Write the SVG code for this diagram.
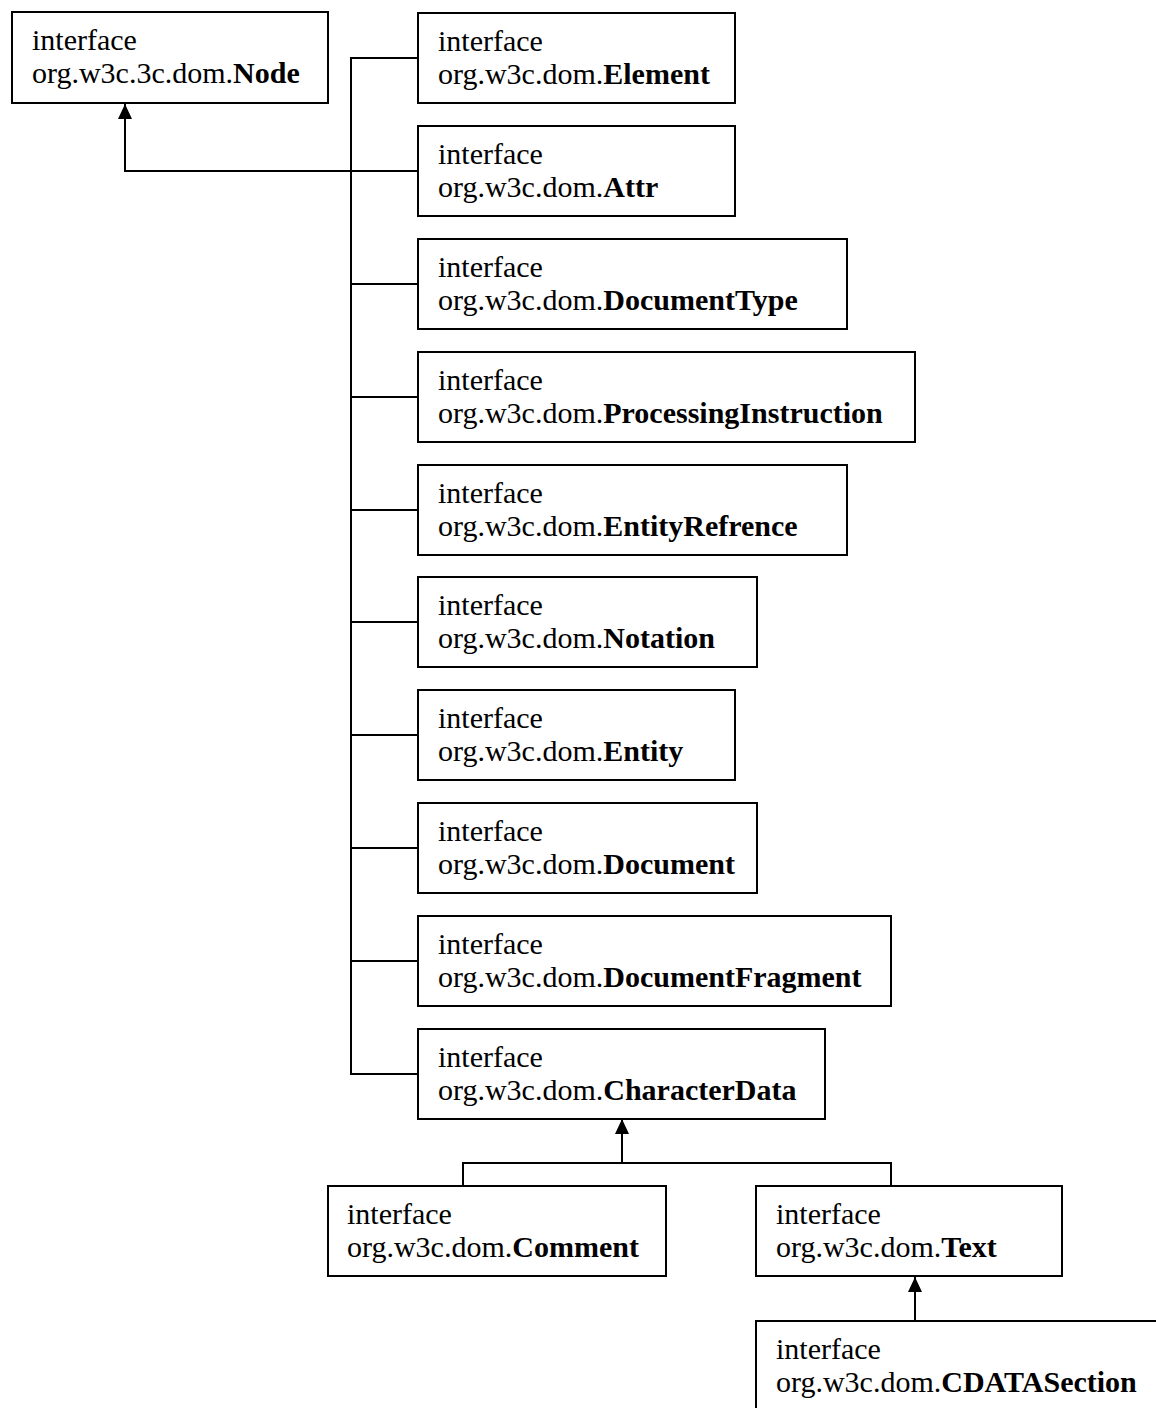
<svg xmlns="http://www.w3.org/2000/svg" width="1156" height="1408" viewBox="0 0 1156 1408">
<style>
.box{fill:#fff;stroke:#000;stroke-width:2}
.t{font-family:"Liberation Serif","Times New Roman",serif;font-size:30px;fill:#000}
.b{font-weight:bold}
.c{fill:none;stroke:#000;stroke-width:2}
</style>
<defs>
<marker id="arr" markerUnits="userSpaceOnUse" markerWidth="16" markerHeight="16" refX="15" refY="7" orient="auto" viewBox="0 0 16 16">
<path d="M0,0 L15,7 L0,14 z" fill="#000"/>
</marker>
</defs>
<rect width="1156" height="1408" fill="#fff"/>
<g id="connectors">
<path class="c" d="M418,58 H351 V1074 H418"/>
<path class="c" d="M418,171 H125 V104" marker-end="url(#arr)"/>
<path class="c" d="M351,284 H418 M351,397 H418 M351,510 H418 M351,622 H418 M351,735 H418 M351,848 H418 M351,961 H418"/>
<path class="c" d="M463,1186 V1163 H891 V1186"/>
<path class="c" d="M622,1163 V1119" marker-end="url(#arr)"/>
<path class="c" d="M915,1321 V1277" marker-end="url(#arr)"/>
</g>
<g id="node-Node"><rect class="box" x="12" y="12" width="316" height="91"/><text class="t" x="32" y="50">interface</text><text class="t" x="32" y="83">org.w3c.3c.dom.<tspan class="b">Node</tspan></text></g>
<g id="node-Element"><rect class="box" x="418" y="13" width="317" height="90"/><text class="t" x="438" y="51">interface</text><text class="t" x="438" y="84">org.w3c.dom.<tspan class="b">Element</tspan></text></g>
<g id="node-Attr"><rect class="box" x="418" y="126" width="317" height="90"/><text class="t" x="438" y="164">interface</text><text class="t" x="438" y="197">org.w3c.dom.<tspan class="b">Attr</tspan></text></g>
<g id="node-DocumentType"><rect class="box" x="418" y="239" width="429" height="90"/><text class="t" x="438" y="277">interface</text><text class="t" x="438" y="310">org.w3c.dom.<tspan class="b">DocumentType</tspan></text></g>
<g id="node-ProcessingInstruction"><rect class="box" x="418" y="352" width="497" height="90"/><text class="t" x="438" y="390">interface</text><text class="t" x="438" y="423">org.w3c.dom.<tspan class="b">ProcessingInstruction</tspan></text></g>
<g id="node-EntityRefrence"><rect class="box" x="418" y="465" width="429" height="90"/><text class="t" x="438" y="503">interface</text><text class="t" x="438" y="536">org.w3c.dom.<tspan class="b">EntityRefrence</tspan></text></g>
<g id="node-Notation"><rect class="box" x="418" y="577" width="339" height="90"/><text class="t" x="438" y="615">interface</text><text class="t" x="438" y="648">org.w3c.dom.<tspan class="b">Notation</tspan></text></g>
<g id="node-Entity"><rect class="box" x="418" y="690" width="317" height="90"/><text class="t" x="438" y="728">interface</text><text class="t" x="438" y="761">org.w3c.dom.<tspan class="b">Entity</tspan></text></g>
<g id="node-Document"><rect class="box" x="418" y="803" width="339" height="90"/><text class="t" x="438" y="841">interface</text><text class="t" x="438" y="874">org.w3c.dom.<tspan class="b">Document</tspan></text></g>
<g id="node-DocumentFragment"><rect class="box" x="418" y="916" width="473" height="90"/><text class="t" x="438" y="954">interface</text><text class="t" x="438" y="987">org.w3c.dom.<tspan class="b">DocumentFragment</tspan></text></g>
<g id="node-CharacterData"><rect class="box" x="418" y="1029" width="407" height="90"/><text class="t" x="438" y="1067">interface</text><text class="t" x="438" y="1100">org.w3c.dom.<tspan class="b">CharacterData</tspan></text></g>
<g id="node-Comment"><rect class="box" x="328" y="1186" width="338" height="90"/><text class="t" x="347" y="1224">interface</text><text class="t" x="347" y="1257">org.w3c.dom.<tspan class="b">Comment</tspan></text></g>
<g id="node-Text"><rect class="box" x="756" y="1186" width="306" height="90"/><text class="t" x="776" y="1224">interface</text><text class="t" x="776" y="1257">org.w3c.dom.<tspan class="b">Text</tspan></text></g>
<g id="node-CDATASection"><rect class="box" x="756" y="1321" width="410" height="100"/><text class="t" x="776" y="1359">interface</text><text class="t" x="776" y="1392">org.w3c.dom.<tspan class="b">CDATASection</tspan></text></g>
</svg>
